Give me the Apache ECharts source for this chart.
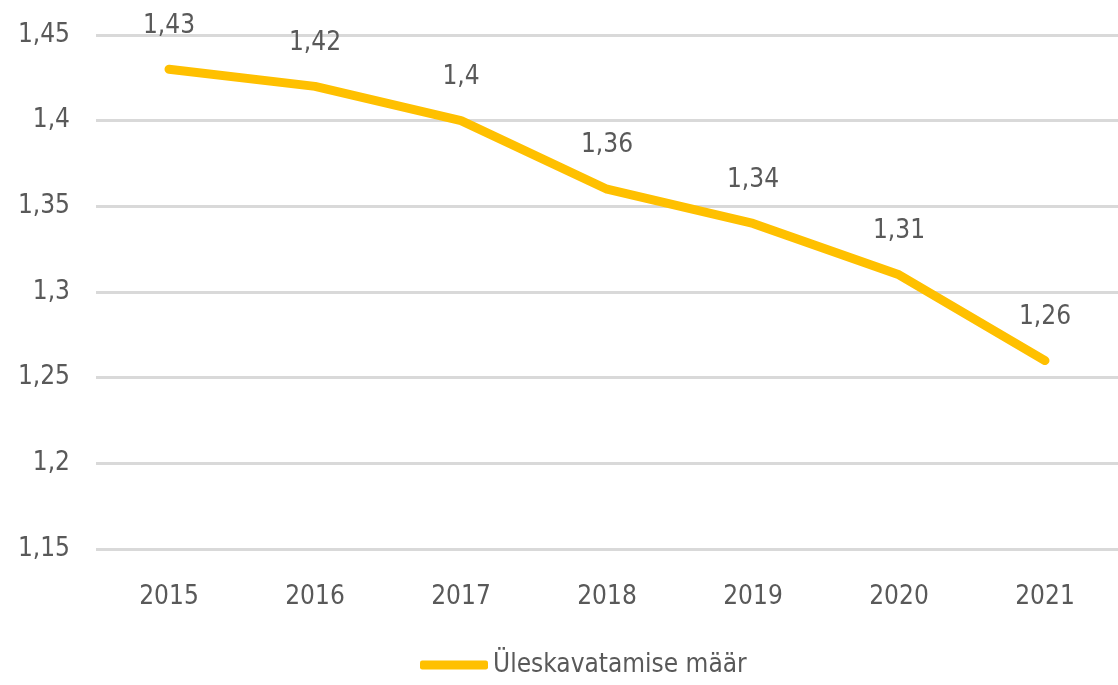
<!DOCTYPE html>
<html><head><meta charset="utf-8">
<script src="https://cdn.jsdelivr.net/npm/echarts@6/dist/echarts.min.js"></script>
<style>html,body{margin:0;padding:0;background:#fff}#c{width:1118px;height:685px}</style>
</head><body><div id="c"></div>
<script>
const categories = ['2015','2016','2017','2018','2019','2020','2021'];
const seriesName = 'Üleskavatamise määr';
const values = [1.43, 1.42, 1.40, 1.36, 1.34, 1.31, 1.26];
const yMin = 1.15, yMax = 1.45, yStep = 0.05;

const FONT = '"Liberation Sans Narrow","DejaVu Sans Condensed","Open Sans",sans-serif';
const FS = 26;
const fmt = v => String(+v.toFixed(2)).replace('.', ',');
const chart = echarts.init(document.getElementById('c'));
chart.setOption({
  animation: false,
  textStyle: {fontFamily: FONT},
  grid: {left: 96, right: -7, top: 35, bottom: 136, containLabel: false},
  xAxis: {
    type: 'category', data: categories, boundaryGap: true,
    axisLine: {show: false}, axisTick: {show: false},
    axisLabel: {color: '#595959', fontSize: FS, fontFamily: FONT, margin: 35}
  },
  yAxis: {
    type: 'value', min: yMin, max: yMax, interval: yStep,
    axisLine: {show: false}, axisTick: {show: false},
    splitLine: {lineStyle: {color: '#d9d9d9', width: 3}},
    axisLabel: {color: '#595959', fontSize: FS, fontFamily: FONT, margin: 26, formatter: fmt}
  },
  legend: {
    top: 652, left: 420, icon: 'roundRect', itemWidth: 68, itemHeight: 9, padding: 0,
    textStyle: {color: '#595959', fontSize: FS, fontFamily: FONT},
    data: [seriesName]
  },
  series: [{
    name: seriesName, type: 'line', data: values,
    symbol: 'circle', symbolSize: 1, showSymbol: true,
    itemStyle: {color: '#FFC000'},
    lineStyle: {color: '#FFC000', width: 9, cap: 'round', join: 'round'},
    label: {show: true, position: 'top', distance: 30, color: '#595959', fontSize: FS, fontFamily: FONT,
      formatter: p => fmt(p.value)}
  }]
});
</script></body></html>
